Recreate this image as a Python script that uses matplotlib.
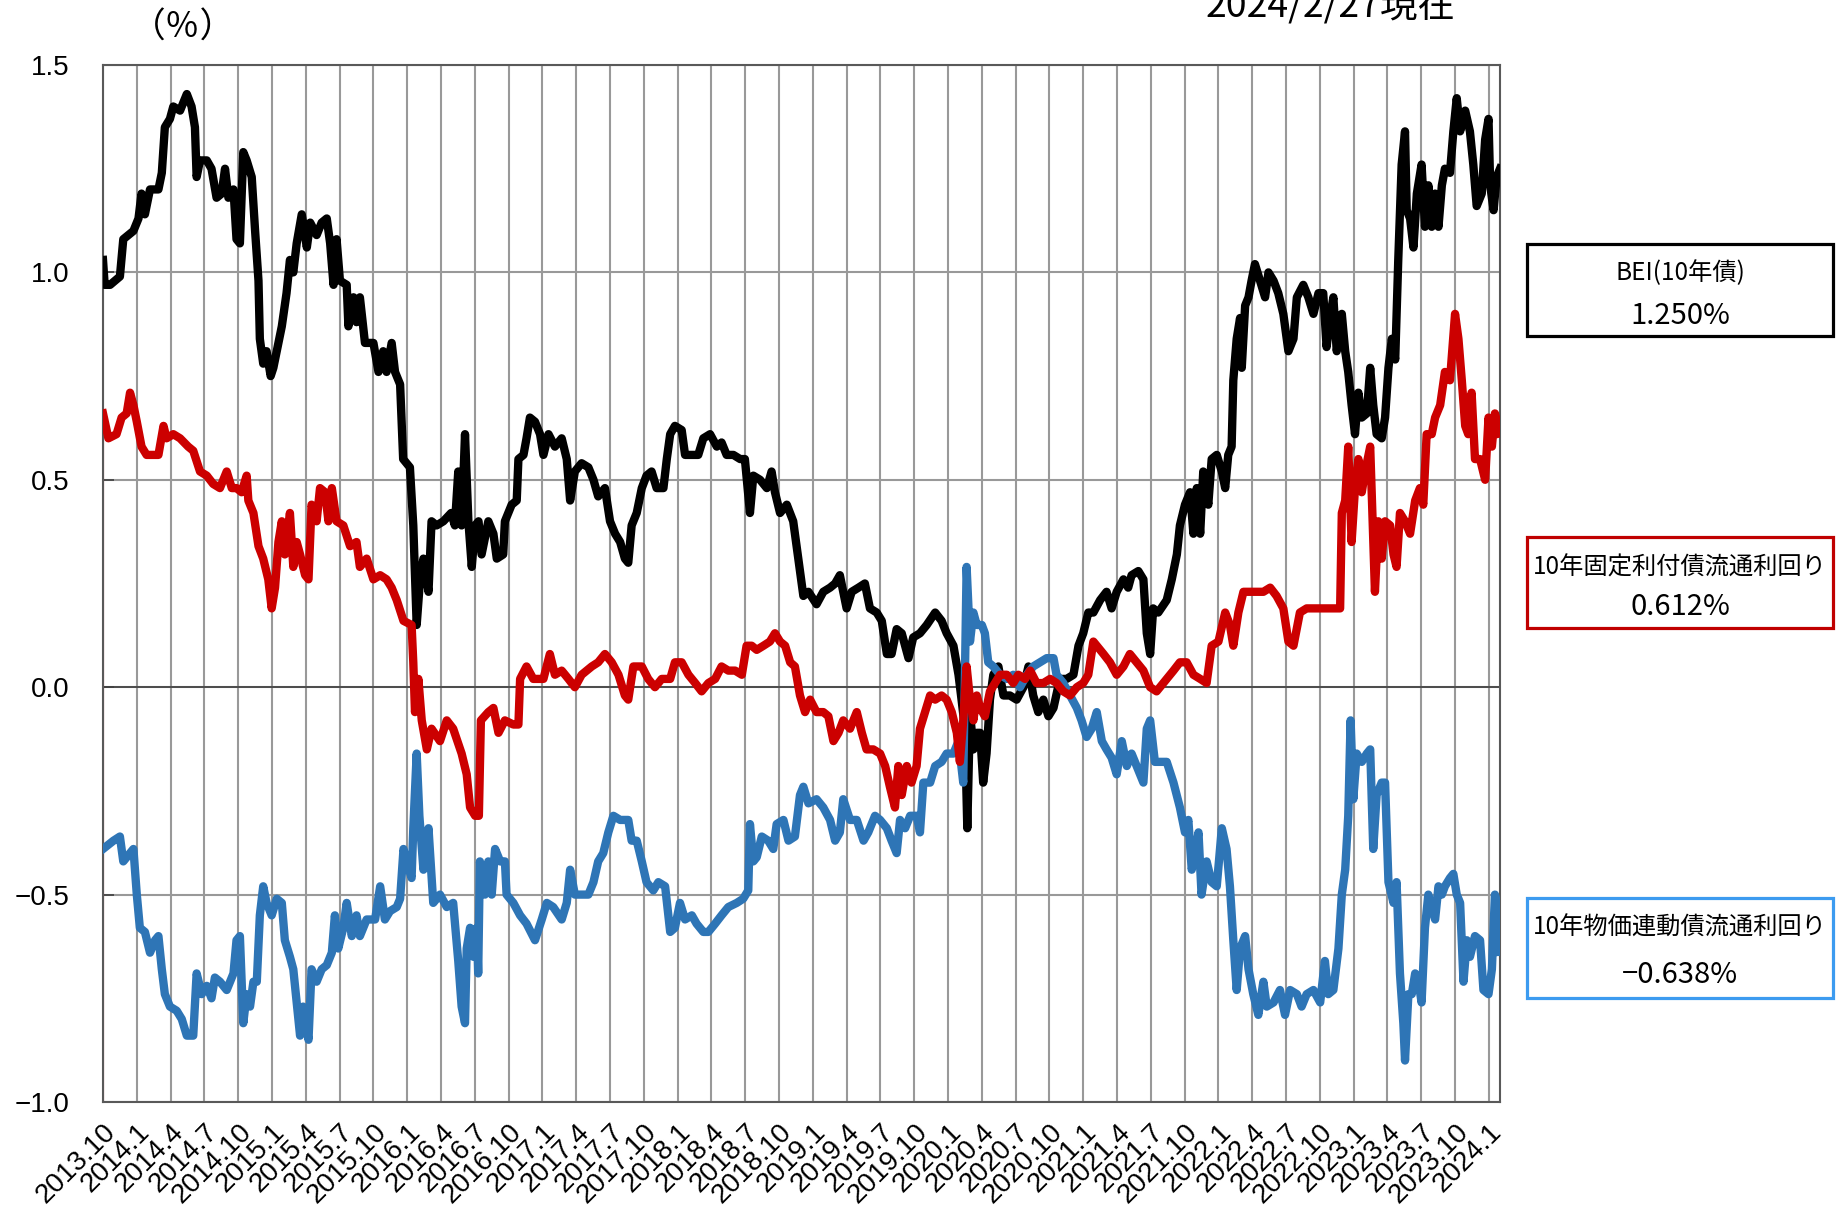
import matplotlib
matplotlib.use('Agg')
import matplotlib.pyplot as plt
from matplotlib.patches import Rectangle


# 四半期ラベル (2013.10 = 0)
quarter_labels = ['2013.10', '2014.1', '2014.4', '2014.7', '2014.10', '2015.1', '2015.4',
                  '2015.7', '2015.10', '2016.1', '2016.4', '2016.7', '2016.10', '2017.1',
                  '2017.4', '2017.7', '2017.10', '2018.1', '2018.4', '2018.7', '2018.10',
                  '2019.1', '2019.4', '2019.7', '2019.10', '2020.1', '2020.4', '2020.7',
                  '2020.10', '2021.1', '2021.4', '2021.7', '2021.10', '2022.1', '2022.4',
                  '2022.7', '2022.10', '2023.1', '2023.4', '2023.7', '2023.10', '2024.1']
y_ticks = [-1.0, -0.5, 0.0, 0.5, 1.0, 1.5]

# BEI (10年債)  x = 2013.10 からの四半期数
bei_q = [0.00, 0.05, 0.21, 0.50, 0.60, 0.90, 1.05, 1.14, 1.24, 1.39, 1.64, 1.74, 1.83, 1.98,
         2.08, 2.28, 2.48, 2.62, 2.72, 2.77, 2.87, 3.07, 3.21, 3.36, 3.51, 3.61, 3.71, 3.86,
         3.95, 4.05, 4.15, 4.25, 4.40, 4.50, 4.60, 4.64, 4.74, 4.84, 4.96, 5.04, 5.14, 5.29,
         5.43, 5.53, 5.63, 5.73, 5.88, 6.03, 6.13, 6.32, 6.47, 6.62, 6.72, 6.82, 6.91, 7.01,
         7.21, 7.26, 7.41, 7.50, 7.60, 7.75, 8.00, 8.15, 8.29, 8.39, 8.54, 8.64, 8.79, 8.88,
         9.08, 9.18, 9.28, 9.38, 9.48, 9.63, 9.72, 9.87, 10.07, 10.30,
         10.41, 10.51, 10.61, 10.71, 10.81, 10.91, 11.01, 11.11, 11.20, 11.40, 11.55, 11.65,
         11.84, 11.89, 12.09, 12.24, 12.29, 12.44, 12.53, 12.63, 12.78, 12.93, 13.03, 13.18,
         13.37, 13.57, 13.72, 13.82, 13.96, 14.16, 14.36, 14.51, 14.65, 14.85, 15.00, 15.15,
         15.30, 15.44, 15.54, 15.64, 15.79, 15.94, 16.08, 16.23, 16.38, 16.58, 16.68, 16.78,
         16.92, 17.12, 17.22, 17.42, 17.61, 17.76, 17.96, 18.16, 18.30, 18.45, 18.65, 18.85,
         18.99, 19.14, 19.24, 19.44, 19.64, 19.78, 19.88, 20.03, 20.23, 20.42, 20.57, 20.72,
         20.87,
         21.11, 21.31, 21.51, 21.66, 21.80, 21.90, 22.00, 22.15, 22.35, 22.54, 22.69, 22.89,
         23.04, 23.19, 23.33, 23.48, 23.63, 23.83, 23.97, 24.17, 24.37, 24.62, 24.81, 24.96,
         25.16, 25.31, 25.40, 25.50, 25.57, 25.65, 25.75, 25.85, 25.95, 26.04, 26.14, 26.24,
         26.34, 26.49, 26.64, 26.83, 27.03, 27.23, 27.38, 27.52, 27.67, 27.82, 27.97, 28.12,
         28.31, 28.51, 28.71, 28.86, 29.00, 29.15, 29.30, 29.50, 29.69, 29.84, 29.99, 30.19,
         30.33, 30.43, 30.63, 30.78, 30.88, 30.98, 31.07, 31.22,
         31.47, 31.62, 31.77, 31.86, 32.01, 32.16, 32.26, 32.36, 32.46, 32.55, 32.70, 32.80,
         32.95, 33.10, 33.20, 33.29, 33.39, 33.44, 33.54, 33.64, 33.69, 33.79, 33.89, 33.98,
         34.08, 34.23, 34.38, 34.48, 34.63, 34.77, 34.92, 35.07, 35.22, 35.32, 35.51, 35.66,
         35.81, 35.96, 36.10, 36.20, 36.30, 36.40, 36.50, 36.65, 36.75, 36.84, 36.94, 37.04,
         37.14, 37.24, 37.39, 37.49, 37.58, 37.68, 37.83, 37.93, 38.03, 38.13, 38.23, 38.32,
         38.42, 38.52, 38.57, 38.67, 38.77, 38.87, 39.01, 39.11, 39.21, 39.31, 39.41, 39.51,
         39.61, 39.70, 39.85, 39.95, 40.05, 40.15, 40.30, 40.44, 40.54, 40.64, 40.79, 40.89,
         40.99, 41.04, 41.14, 41.23, 41.33]
bei_v = [1.03, 0.97, 0.97, 0.99, 1.08, 1.10, 1.13, 1.19, 1.14, 1.20, 1.20, 1.24, 1.35, 1.37,
         1.40, 1.39, 1.43, 1.40, 1.35, 1.23, 1.27, 1.27, 1.25, 1.18, 1.19, 1.25, 1.18, 1.20,
         1.08, 1.07, 1.29, 1.27, 1.23, 1.10, 0.98, 0.84, 0.78, 0.81, 0.75, 0.77, 0.81, 0.87,
         0.95, 1.03, 1.00, 1.07, 1.14, 1.06, 1.12, 1.09, 1.12, 1.13, 1.07, 0.97, 1.08, 0.98,
         0.97, 0.87, 0.94, 0.88, 0.94, 0.83, 0.83, 0.76, 0.81, 0.76, 0.83, 0.76, 0.73, 0.55,
         0.53, 0.39, 0.15, 0.26, 0.31, 0.23, 0.40, 0.39, 0.40, 0.42,
         0.39, 0.52, 0.39, 0.61, 0.40, 0.29, 0.39, 0.40, 0.32, 0.40, 0.37, 0.31,
         0.32, 0.40, 0.44, 0.45, 0.55, 0.56, 0.60, 0.65, 0.64, 0.61, 0.56, 0.61,
         0.58, 0.60, 0.55, 0.45, 0.52, 0.54, 0.53, 0.50, 0.46, 0.48, 0.40, 0.37,
         0.35, 0.31, 0.30, 0.39, 0.42, 0.48, 0.51, 0.52, 0.48, 0.48, 0.55, 0.61,
         0.63, 0.62, 0.56, 0.56, 0.56, 0.60, 0.61, 0.58, 0.59, 0.56, 0.56, 0.55,
         0.55, 0.42, 0.51, 0.50, 0.48, 0.52, 0.47, 0.42, 0.44, 0.40, 0.31, 0.22,
         0.23,
         0.20, 0.23, 0.24, 0.25, 0.27, 0.23, 0.19, 0.23, 0.24, 0.25, 0.19, 0.18,
         0.16, 0.08, 0.08, 0.14, 0.13, 0.07, 0.12, 0.13, 0.15, 0.18, 0.16, 0.13,
         0.10, 0.03, -0.03, -0.10, -0.34, -0.06, -0.15, -0.11, -0.11, -0.23, -0.16, -0.03,
         0.03, 0.05, -0.02, -0.02, -0.03, 0.00, 0.05, -0.02, -0.06, -0.03, -0.07, -0.05,
         0.02, 0.02, 0.03, 0.10, 0.13, 0.18, 0.18, 0.21, 0.23, 0.19, 0.23, 0.26,
         0.24, 0.27, 0.28, 0.26, 0.13, 0.08, 0.19, 0.18,
         0.21, 0.26, 0.32, 0.39, 0.44, 0.47, 0.37, 0.48, 0.37, 0.52, 0.44, 0.55,
         0.56, 0.52, 0.48, 0.56, 0.58, 0.74, 0.84, 0.89, 0.77, 0.92, 0.94, 0.98,
         1.02, 0.98, 0.94, 1.00, 0.98, 0.95, 0.90, 0.81, 0.84, 0.94, 0.97, 0.94,
         0.90, 0.95, 0.95, 0.82, 0.89, 0.94, 0.81, 0.90, 0.81, 0.76, 0.68, 0.61,
         0.71, 0.65, 0.66, 0.77, 0.68, 0.61, 0.60, 0.65, 0.77, 0.84, 0.79, 1.03,
         1.26, 1.34, 1.15, 1.13, 1.06, 1.19, 1.26, 1.11, 1.21, 1.11, 1.19, 1.11,
         1.21, 1.25, 1.24, 1.34, 1.42, 1.34, 1.39, 1.34, 1.26, 1.16, 1.19, 1.32,
         1.37, 1.21, 1.15, 1.23, 1.250]

# 10年固定利付債流通利回り
nom_q = [0.00, 0.16, 0.40, 0.55, 0.70, 0.80, 0.90, 1.00, 1.14, 1.29, 1.49, 1.64, 1.79, 1.88,
         2.08, 2.28, 2.52, 2.67, 2.87, 3.07, 3.26, 3.46, 3.66, 3.81, 3.95, 4.10, 4.25, 4.30,
         4.45, 4.60, 4.74, 4.89, 4.99, 5.09, 5.19, 5.29, 5.38, 5.53, 5.63, 5.73, 5.83, 5.98,
         6.08, 6.17, 6.32, 6.42, 6.57, 6.67, 6.77, 6.91, 7.11, 7.31, 7.50, 7.60, 7.80, 8.00,
         8.20, 8.39, 8.54, 8.69, 8.89, 9.13, 9.18, 9.23, 9.33, 9.43, 9.58, 9.72, 9.97, 10.17,
         10.36,
         10.61, 10.76, 10.86, 11.01, 11.12, 11.18, 11.40, 11.55, 11.70, 11.89, 12.14, 12.29,
         12.34, 12.53, 12.73, 13.03, 13.22, 13.37, 13.57, 13.77, 13.96, 14.16, 14.46, 14.65,
         14.85, 15.05, 15.25, 15.44, 15.54, 15.69, 15.94, 16.13, 16.33, 16.53, 16.78, 16.92,
         17.12, 17.32, 17.52, 17.71, 17.91, 18.11, 18.30, 18.50, 18.70, 18.90, 19.04, 19.19,
         19.34, 19.54, 19.73, 19.88, 20.03, 20.18, 20.33, 20.47, 20.62, 20.77, 20.92,
         21.11, 21.31, 21.46, 21.61, 21.76, 21.90, 22.10, 22.30, 22.45, 22.59, 22.79, 22.99,
         23.14, 23.28, 23.43, 23.53, 23.63, 23.78, 23.92, 24.07, 24.17, 24.32, 24.47, 24.62,
         24.81, 24.96, 25.11, 25.26, 25.35, 25.45, 25.55, 25.65, 25.75, 25.85, 25.95, 26.09,
         26.24, 26.39, 26.54, 26.74, 26.93, 27.08, 27.28, 27.43, 27.62, 27.82, 28.02, 28.21,
         28.41, 28.61, 28.81, 29.00, 29.15, 29.30, 29.40, 29.60, 29.79, 29.99, 30.19, 30.38,
         30.58, 30.78, 30.98, 31.17,
         31.27, 31.47, 31.67, 31.86, 32.06, 32.26, 32.46, 32.65, 32.80, 33.00, 33.20, 33.34,
         33.44, 33.59, 33.74, 33.93, 34.13, 34.33, 34.53, 34.72, 34.92, 35.07, 35.22, 35.41,
         35.61, 35.81, 36.01, 36.20, 36.40, 36.60, 36.65, 36.75, 36.84, 36.94, 37.04, 37.14,
         37.24, 37.34, 37.49, 37.58, 37.63, 37.73, 37.83, 37.93, 38.08, 38.18, 38.27, 38.37,
         38.52, 38.67, 38.82, 38.96, 39.06, 39.16, 39.31, 39.41, 39.56, 39.70, 39.85, 40.00,
         40.10, 40.20, 40.30, 40.39, 40.49, 40.59, 40.74, 40.89, 40.99, 41.09, 41.18, 41.28,
         41.33]
nom_v = [0.66, 0.60, 0.61, 0.65, 0.66, 0.71, 0.68, 0.64, 0.58, 0.56, 0.56, 0.56, 0.63, 0.60,
         0.61, 0.60, 0.58, 0.57, 0.52, 0.51, 0.49, 0.48, 0.52, 0.48, 0.48, 0.47, 0.51, 0.45,
         0.42, 0.34, 0.31, 0.26, 0.19, 0.24, 0.35, 0.40, 0.32, 0.42, 0.29, 0.35, 0.32, 0.27,
         0.26, 0.44, 0.40, 0.48, 0.47, 0.40, 0.48, 0.40, 0.39, 0.34, 0.35, 0.29, 0.31, 0.26,
         0.27, 0.26, 0.24, 0.21, 0.16, 0.15, 0.06, -0.06, 0.02, -0.08, -0.15, -0.10, -0.13, -0.08,
         -0.10,
         -0.16, -0.21, -0.29, -0.31, -0.31, -0.08, -0.06, -0.05, -0.11, -0.08, -0.09, -0.09,
         0.02, 0.05, 0.02, 0.02, 0.08, 0.03, 0.04, 0.02, 0.00, 0.03, 0.05, 0.06,
         0.08, 0.06, 0.03, -0.02, -0.03, 0.05, 0.05, 0.02, 0.00, 0.02, 0.02, 0.06,
         0.06, 0.03, 0.01, -0.01, 0.01, 0.02, 0.05, 0.04, 0.04, 0.03, 0.10, 0.10,
         0.09, 0.10, 0.11, 0.13, 0.11, 0.10, 0.06, 0.05, -0.02, -0.06, -0.03,
         -0.06, -0.06, -0.07, -0.13, -0.11, -0.08, -0.10, -0.06, -0.11, -0.15, -0.15, -0.16,
         -0.19, -0.24, -0.29, -0.19, -0.26, -0.19, -0.23, -0.19, -0.10, -0.06, -0.02, -0.03,
         -0.02, -0.03, -0.06, -0.11, -0.18, -0.08, 0.05, -0.03, -0.08, -0.02, -0.05, -0.07,
         -0.01, 0.01, 0.03, 0.03, 0.01, 0.03, 0.02, 0.04, 0.01, 0.01, 0.02, 0.01,
         -0.01, -0.02, 0.00, 0.01, 0.03, 0.11, 0.10, 0.08, 0.06, 0.03, 0.05, 0.08,
         0.06, 0.04, 0.00, -0.01,
         0.00, 0.02, 0.04, 0.06, 0.06, 0.03, 0.02, 0.01, 0.10, 0.11, 0.18, 0.15,
         0.10, 0.18, 0.23, 0.23, 0.23, 0.23, 0.24, 0.22, 0.19, 0.11, 0.10, 0.18,
         0.19, 0.19, 0.19, 0.19, 0.19, 0.19, 0.42, 0.45, 0.58, 0.35, 0.48, 0.55,
         0.47, 0.52, 0.58, 0.35, 0.23, 0.40, 0.31, 0.40, 0.39, 0.32, 0.29, 0.42,
         0.40, 0.37, 0.45, 0.48, 0.44, 0.61, 0.61, 0.65, 0.68, 0.76, 0.74, 0.90,
         0.84, 0.74, 0.63, 0.61, 0.71, 0.55, 0.55, 0.50, 0.65, 0.58, 0.66, 0.63,
         0.612]

# 10年物価連動債流通利回り
real_q = [0.00, 0.31, 0.50, 0.60, 0.80, 0.90, 1.00, 1.09, 1.24, 1.39, 1.54, 1.64, 1.74, 1.83,
          1.98, 2.18, 2.33, 2.48, 2.67, 2.77, 2.92, 3.07, 3.21, 3.31, 3.46, 3.66, 3.86, 3.95,
          4.05, 4.15, 4.25, 4.35, 4.45, 4.55, 4.64, 4.74, 4.84, 4.99, 5.14, 5.29, 5.38, 5.53,
          5.63, 5.73, 5.83, 5.92, 6.08, 6.17, 6.32, 6.47, 6.62, 6.77, 6.86, 6.96, 7.11, 7.21,
          7.36, 7.50, 7.60, 7.80, 8.05, 8.20, 8.34, 8.49, 8.69, 8.79, 8.89, 8.98, 9.13, 9.18,
          9.28, 9.36, 9.48, 9.63, 9.77, 9.97, 10.17, 10.36,
          10.51, 10.61, 10.71, 10.76, 10.86, 10.96, 11.06, 11.10, 11.15, 11.30, 11.40, 11.50,
          11.60, 11.75, 11.89, 11.94, 12.14, 12.34, 12.53, 12.78, 12.98, 13.13, 13.32, 13.57,
          13.72, 13.82, 13.96, 14.16, 14.36, 14.51, 14.65, 14.80, 14.95, 15.10, 15.30, 15.54,
          15.64, 15.79, 15.94, 16.08, 16.28, 16.43, 16.63, 16.78, 16.92, 17.07, 17.22, 17.42,
          17.56, 17.76, 17.91, 18.11, 18.30, 18.50, 18.75, 18.94, 19.09, 19.14, 19.24, 19.34,
          19.49, 19.68, 19.83, 19.93, 20.13, 20.28, 20.47, 20.62, 20.72, 20.87,
          21.11, 21.31, 21.51, 21.66, 21.80, 21.90, 22.10, 22.30, 22.50, 22.64, 22.84, 22.99,
          23.19, 23.33, 23.48, 23.58, 23.73, 23.88, 24.07, 24.17, 24.27, 24.47, 24.62, 24.81,
          24.96, 25.16, 25.31, 25.45, 25.55, 25.65, 25.75, 25.85, 26.00, 26.09, 26.19, 26.34,
          26.54, 26.74, 26.93, 27.13, 27.33, 27.52, 27.72, 27.92, 28.12, 28.21, 28.41, 28.61,
          28.81, 28.95, 29.10, 29.25, 29.40, 29.55, 29.69, 29.84, 29.99, 30.14, 30.29, 30.43,
          30.58, 30.78, 30.88, 30.98, 31.12, 31.32,
          31.47, 31.67, 31.86, 32.01, 32.11, 32.21, 32.31, 32.41, 32.50, 32.65, 32.80, 32.95,
          33.10, 33.24, 33.34, 33.44, 33.54, 33.64, 33.79, 33.89, 34.03, 34.18, 34.33, 34.43,
          34.63, 34.82, 34.97, 35.12, 35.32, 35.46, 35.61, 35.81, 36.01, 36.15, 36.25, 36.40,
          36.55, 36.65, 36.75, 36.84, 36.91, 36.99, 37.09, 37.24, 37.39, 37.49, 37.58, 37.68,
          37.83, 37.93, 38.03, 38.18, 38.27, 38.37, 38.47, 38.52, 38.62, 38.72, 38.82, 38.92,
          39.01, 39.11, 39.21, 39.31, 39.41, 39.51, 39.61, 39.70, 39.85, 39.95, 40.05, 40.15,
          40.25, 40.35, 40.44, 40.59, 40.74, 40.84, 40.99, 41.09, 41.18, 41.28, 41.33]
real_v = [-0.39, -0.37, -0.36, -0.42, -0.40, -0.39, -0.50, -0.58, -0.59, -0.64, -0.61, -0.60,
          -0.68, -0.74, -0.77, -0.78, -0.80, -0.84, -0.84, -0.69, -0.74, -0.72, -0.75, -0.70,
          -0.71, -0.73, -0.69, -0.61, -0.60, -0.81, -0.74, -0.77, -0.71, -0.71, -0.55, -0.48,
          -0.52, -0.55, -0.51, -0.52, -0.61, -0.65, -0.68, -0.76, -0.84, -0.77, -0.85, -0.68,
          -0.71, -0.68, -0.67, -0.64, -0.55, -0.63, -0.58, -0.52, -0.60, -0.55, -0.60, -0.56,
          -0.56, -0.48, -0.56, -0.54, -0.53, -0.51, -0.39, -0.42, -0.46, -0.34, -0.16, -0.31,
          -0.44, -0.34, -0.52, -0.50, -0.53, -0.52,
          -0.66, -0.77, -0.81, -0.63, -0.58, -0.65, -0.58, -0.69, -0.42, -0.50, -0.42, -0.50,
          -0.39, -0.42, -0.42, -0.50, -0.52, -0.55, -0.57, -0.61, -0.56, -0.52, -0.53, -0.56,
          -0.52, -0.44, -0.50, -0.50, -0.50, -0.47, -0.42, -0.40, -0.35, -0.31, -0.32, -0.32,
          -0.37, -0.37, -0.42, -0.47, -0.49, -0.47, -0.48, -0.59, -0.58, -0.52, -0.56, -0.55,
          -0.57, -0.59, -0.59, -0.57, -0.55, -0.53, -0.52, -0.51, -0.49, -0.33, -0.42, -0.41,
          -0.36, -0.37, -0.39, -0.33, -0.32, -0.37, -0.36, -0.26, -0.24, -0.28,
          -0.27, -0.29, -0.32, -0.37, -0.35, -0.27, -0.32, -0.32, -0.37, -0.35, -0.31, -0.32,
          -0.34, -0.37, -0.40, -0.32, -0.34, -0.31, -0.31, -0.35, -0.23, -0.23, -0.19, -0.18,
          -0.16, -0.16, -0.13, -0.23, 0.29, 0.11, 0.18, 0.15, 0.15, 0.13, 0.06, 0.05,
          0.03, 0.02, 0.03, 0.00, 0.03, 0.05, 0.06, 0.07, 0.07, 0.03, 0.01, -0.02,
          -0.05, -0.08, -0.12, -0.10, -0.06, -0.13, -0.15, -0.17, -0.21, -0.13, -0.19, -0.16,
          -0.19, -0.23, -0.10, -0.08, -0.18, -0.18,
          -0.18, -0.23, -0.29, -0.35, -0.32, -0.44, -0.40, -0.35, -0.50, -0.42, -0.47, -0.48,
          -0.34, -0.39, -0.48, -0.61, -0.73, -0.63, -0.60, -0.68, -0.74, -0.79, -0.71, -0.77,
          -0.76, -0.73, -0.79, -0.73, -0.74, -0.77, -0.74, -0.73, -0.76, -0.66, -0.74, -0.73,
          -0.63, -0.50, -0.44, -0.31, -0.08, -0.27, -0.16, -0.18, -0.16, -0.15, -0.39, -0.26,
          -0.23, -0.23, -0.47, -0.52, -0.47, -0.69, -0.81, -0.90, -0.74, -0.74, -0.69, -0.71,
          -0.76, -0.58, -0.50, -0.53, -0.56, -0.48, -0.50, -0.48, -0.46, -0.45, -0.50, -0.52,
          -0.71, -0.61, -0.65, -0.60, -0.61, -0.73, -0.74, -0.68, -0.50, -0.53, -0.638]

BLACK = '#000000'
RED = '#CC0000'
BLUE = '#2E75B6'
JP = ['Noto Sans CJK JP', 'DejaVu Sans']

W, H = 1840, 1211


def fx(px):
    return px / W


def fy(py):
    return 1 - py / H


def legend_box(fig, x0, y0, x1, y1, edge, title, value, ty1, ty2):
    fig.add_artist(Rectangle((fx(x0), fy(y1)), fx(x1) - fx(x0), fy(y0) - fy(y1),
                             transform=fig.transFigure, fill=False, edgecolor=edge, lw=2.3))
    cx = fx((x0 + x1) / 2)
    fig.text(cx, fy(ty1), title, ha='center', va='center', fontsize=17.5, family=JP)
    fig.text(cx, fy(ty2), value, ha='center', va='center', fontsize=21, family=JP)


def main():
    plt.rcParams['font.family'] = ['Liberation Sans', 'Noto Sans CJK JP']
    fig = plt.figure(figsize=(W / 100, H / 100), dpi=100)
    ax = fig.add_axes([fx(103), fy(1102), fx(1500) - fx(103), fy(65) - fy(1102)])

    lw = 6.0
    ax.vlines(nom_q[0], y_ticks[0], nom_v[0], color=RED, lw=1.5, zorder=2)
    ax.plot(bei_q, bei_v, color=BLACK, lw=lw, solid_joinstyle='round', zorder=3)
    ax.plot(real_q, real_v, color=BLUE, lw=lw, solid_joinstyle='round', zorder=4)
    ax.plot(nom_q, nom_v, color=RED, lw=lw, solid_joinstyle='round', zorder=5)
    ax.axhline(0, color='#404040', lw=1.2, zorder=1)

    ax.set_xlim(0, 41.33)
    ax.set_ylim(y_ticks[0], y_ticks[-1])
    ax.set_xticks(range(len(quarter_labels)))
    ax.set_xticklabels(quarter_labels, rotation=45, ha='right', rotation_mode='anchor')
    ax.set_yticks(y_ticks)
    ax.set_yticklabels([f'{v:.1f}'.replace('-', '\u2212') for v in y_ticks])
    ax.tick_params(axis='x', length=0, pad=12, labelsize=20)
    ax.tick_params(axis='y', direction='in', length=8, width=1.2, color='#404040',
                   pad=24, labelsize=20)
    ax.grid(True, color='#999999', lw=1.5, zorder=0)
    ax.set_axisbelow(True)
    for s in ax.spines.values():
        s.set_color('#595959')
        s.set_linewidth(1.5)

    fig.text(fx(183), fy(28), '（％）', ha='center', va='center', fontsize=25, family=JP)
    fig.text(fx(1206), fy(18), '2024/2/27現在', ha='left', va='baseline', fontsize=27,
             family=JP)

    legend_box(fig, 1527, 244, 1833, 336, BLACK, 'BEI(10年債)',
               f'{bei_v[-1]:.3f}%', 273, 316)
    legend_box(fig, 1527, 537, 1833, 628, '#C00000', '10年固定利付債流通利回り',
               f'{nom_v[-1]:.3f}%', 568, 607)
    legend_box(fig, 1527, 898, 1833, 998, '#3C9BF0', '10年物価連動債流通利回り',
               f'{real_v[-1]:.3f}%'.replace('-', '\u2212'), 928, 975)

    fig.savefig('out.png', dpi=100)


if __name__ == '__main__':
    main()
